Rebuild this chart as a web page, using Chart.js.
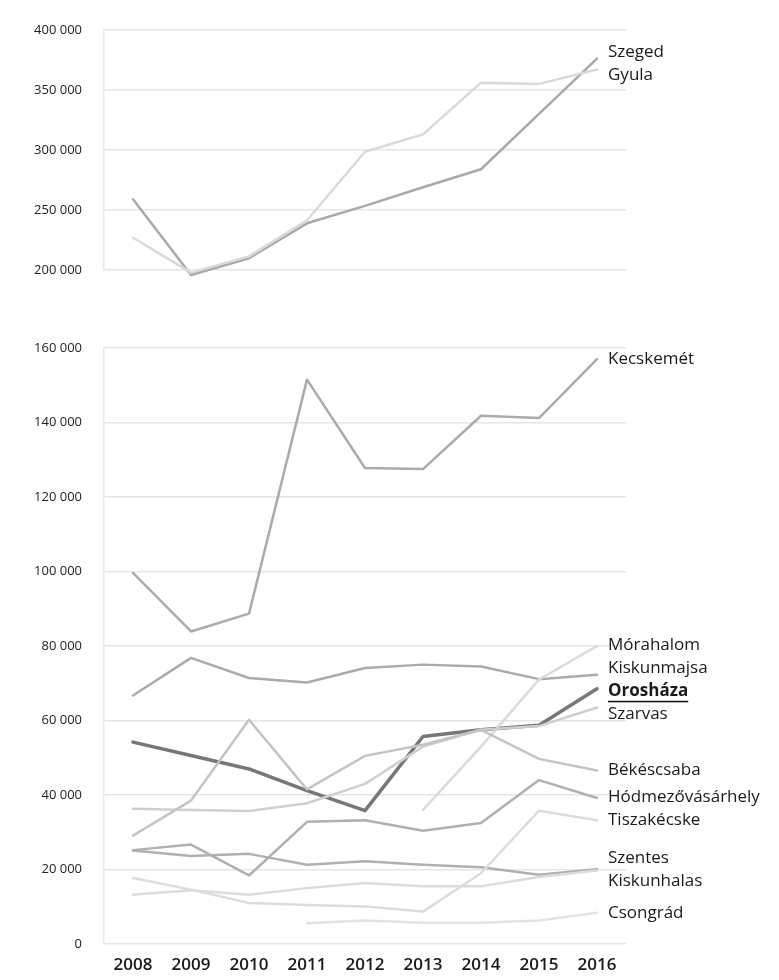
<!DOCTYPE html>
<html><head><meta charset="utf-8">
<script src="https://cdn.jsdelivr.net/npm/chart.js@4.4.1/dist/chart.umd.min.js"></script>
<style>
html,body{margin:0;padding:0;background:#fff;}
#wrap{position:relative;width:779px;height:980px;overflow:hidden;}
canvas{position:absolute;left:0;}
</style></head><body>
<div id="wrap">
<canvas id="top" width="779" height="300" style="top:0"></canvas>
<canvas id="bot" width="779" height="680" style="top:300px"></canvas>
</div>
<script>
const years = ['2008','2009','2010','2011','2012','2013','2014','2015','2016'];
const topTicks = [200000, 250000, 300000, 350000, 400000];
const botTicks = [0, 20000, 40000, 60000, 80000, 100000, 120000, 140000, 160000];

// upper panel
const szeged = [259000, 196000, 210000, 239000, 253500, 269000, 284000, 330000, 376000];
const gyula  = [227000, 198000, 211500, 241500, 298500, 313000, 356000, 355000, 367000];
// lower panel
const kecskemet   = [99600, 83900, 88700, 151500, 127800, 127500, 141800, 141200, 157000];
const morahalom   = [null, null, null, null, null, 36000, 53000, 71000, 80000];
const kiskunmajsa = [66700, 76800, 71400, 70200, 74100, 75000, 74500, 71100, 72300];
const oroshaza    = [54200, 50600, 47000, 41200, 35800, 55700, 57500, 58700, 68500];
const szarvas     = [36300, 36000, 35700, 37800, 43000, 53000, 57500, 58500, 63500];
const bekescsaba  = [29100, 38500, 60200, 41500, 50500, 53500, 57500, 49700, 46600];
const hodmezo     = [25200, 26700, 18400, 32800, 33200, 30400, 32500, 44000, 39200];
const tiszakecske = [17700, 14600, 11000, 10500, 10100, 8700, 19000, 35800, 33200];
const szentes     = [25100, 23600, 24200, 21300, 22200, 21300, 20600, 18600, 20100];
const kiskunhalas = [13200, 14400, 13200, 15000, 16400, 15500, 15500, 18000, 19700];
const csongrad    = [null, null, null, 5600, 6300, 5700, 5700, 6300, 8400];

const fmt = v => String(v).replace(/\B(?=(\d{3})+(?!\d))/g, ' ');

function ds(label, data, color, width, opts) {
  return Object.assign({label, data, borderColor: color, backgroundColor: color,
    borderWidth: width || 2.5, pointRadius: 0, tension: 0, spanGaps: false, clip: 10,
    borderJoinStyle: 'round', borderCapStyle: 'round'}, opts || {});
}

const endLabels = {
  id: 'endLabels',
  afterDatasetsDraw(chart) {
    const ctx = chart.ctx;
    const items = [];
    chart.data.datasets.forEach((d, i) => {
      const meta = chart.getDatasetMeta(i);
      const pt = meta.data[meta.data.length - 1];
      items.push({text: d.label, x: pt.x, y: pt.y, bold: !!d.boldLabel});
    });
    items.sort((a, b) => a.y - b.y);
    const gap = 23;
    for (let it = 0; it < 80; it++) {
      for (let i = 1; i < items.length; i++) {
        const d = items[i].y - items[i-1].y;
        if (d < gap) {
          const s = (gap - d) / 2;
          items[i].y += s; items[i-1].y -= s;
        }
      }
    }
    ctx.save();
    ctx.textBaseline = 'middle';
    ctx.fillStyle = '#1a1a1a';
    items.forEach(o => {
      ctx.font = (o.bold ? '700 ' : '400 ') + '17px "Open Sans", sans-serif';
      const tx = o.x + 11;
      ctx.fillText(o.text, tx, o.y);
      if (o.bold) {
        const w = ctx.measureText(o.text).width;
        ctx.fillRect(tx, o.y + 10, w, 1.6);
      }
    });
    ctx.restore();
  }
};

function yScale(min, max, ticksArr) {
  return {
    min, max,
    afterBuildTicks: s => { s.ticks = ticksArr.map(v => ({value: v})); },
    afterFit: s => { s.width = 104; },
    grid: {color: '#e6e6e6', lineWidth: 1.5, drawTicks: false},
    border: {display: true, color: '#e8e8e8', width: 1.5},
    ticks: {padding: 22, color: '#222', font: {family: '"Open Sans", sans-serif', size: 13},
      callback: v => fmt(v)}
  };
}

const common = {
  responsive: false,
  animation: false,
  plugins: {legend: {display: false}, tooltip: {enabled: false}},
  elements: {line: {fill: false}}
};

new Chart(document.getElementById('top'), {
  type: 'line',
  data: {labels: years, datasets: [
    ds('Gyula', gyula, '#d9d9d9', 2.5),
    ds('Szeged', szeged, '#a9a9a9', 2.5)
  ]},
  options: Object.assign({}, common, {
    layout: {padding: {top: 25, bottom: 22, left: 0, right: 153}},
    scales: {
      x: {type: 'category', offset: true, display: false, grid: {display: false}},
      y: yScale(200000, 400000, topTicks)
    }
  }),
  plugins: [endLabels]
});

new Chart(document.getElementById('bot'), {
  type: 'line',
  data: {labels: years, datasets: [
    ds('Csongrád', csongrad, '#e3e3e3', 2.5),
    ds('Kiskunhalas', kiskunhalas, '#dcdcdc', 2.5),
    ds('Tiszakécske', tiszakecske, '#dcdcdc', 2.5),
    ds('Szentes', szentes, '#b0b0b0', 2.5),
    ds('Hódmezővásárhely', hodmezo, '#b0b0b0', 2.5),
    ds('Békéscsaba', bekescsaba, '#c4c4c4', 2.5),
    ds('Szarvas', szarvas, '#cfcfcf', 2.5),
    ds('Mórahalom', morahalom, '#dadada', 2.5),
    ds('Kiskunmajsa', kiskunmajsa, '#ababab', 2.5),
    ds('Kecskemét', kecskemet, '#ababab', 2.5),
    ds('Orosháza', oroshaza, '#777777', 3.5, {boldLabel: true})
  ]},
  options: Object.assign({}, common, {
    layout: {padding: {top: 48, bottom: 0, left: 0, right: 153}},
    scales: {
      x: {type: 'category', offset: true,
        afterFit: s => { s.height = 36; },
        grid: {display: false, drawTicks: false},
        border: {display: false},
        ticks: {padding: 11, color: '#1a1a1a', font: {family: '"Open Sans", sans-serif', size: 17, weight: '600'}}},
      y: yScale(0, 160000, botTicks)
    }
  }),
  plugins: [endLabels]
});
</script>
</body></html>
